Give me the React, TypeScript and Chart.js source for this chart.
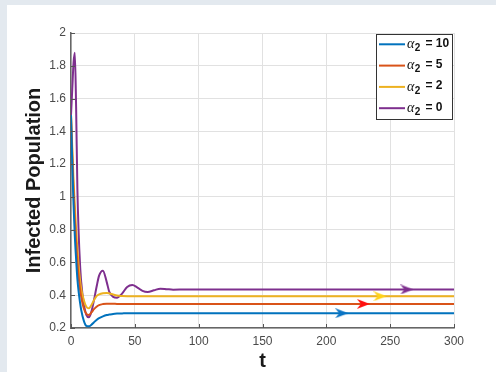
import React, { useEffect, useRef } from "react";
import { Chart, registerables } from "chart.js";

Chart.register(...registerables);

// ---- data ----
const tValues = [0, 1, 2, 3, 4, 5, 6, 7, 8, 10, 12, 14, 16, 18, 20, 22, 25, 28, 30, 33, 36, 40, 44, 48, 52, 56, 60, 65, 70, 75, 80, 90, 100, 150, 200, 250, 300];

const infectedA10 = [1.5, 1.2, 0.95, 0.76, 0.62, 0.5, 0.42, 0.36, 0.31, 0.245, 0.213, 0.21, 0.22, 0.235, 0.249, 0.26, 0.271, 0.279, 0.282, 0.286, 0.288, 0.289, 0.29, 0.29, 0.29, 0.29, 0.29, 0.29, 0.29, 0.29, 0.29, 0.29, 0.29, 0.29, 0.29, 0.29, 0.29];
const infectedA5 = [1.5, 1.25, 1.03, 0.86, 0.72, 0.6, 0.51, 0.44, 0.39, 0.32, 0.287, 0.28, 0.295, 0.315, 0.33, 0.34, 0.346, 0.348, 0.348, 0.348, 0.347, 0.347, 0.347, 0.347, 0.347, 0.347, 0.347, 0.347, 0.347, 0.347, 0.347, 0.347, 0.347, 0.347, 0.347, 0.347, 0.347];
const infectedA2 = [1.5, 1.3, 1.1, 0.95, 0.8, 0.68, 0.58, 0.5, 0.44, 0.37, 0.33, 0.32, 0.34, 0.37, 0.395, 0.405, 0.412, 0.414, 0.411, 0.404, 0.398, 0.395, 0.394, 0.394, 0.394, 0.394, 0.394, 0.394, 0.394, 0.394, 0.394, 0.394, 0.394, 0.394, 0.394, 0.394, 0.394];
const infectedA0 = [1.5, 1.66, 1.82, 1.88, 1.55, 1.05, 0.78, 0.6, 0.48, 0.35, 0.28, 0.265, 0.3, 0.37, 0.45, 0.52, 0.55, 0.48, 0.42, 0.39, 0.385, 0.41, 0.45, 0.462, 0.447, 0.427, 0.42, 0.43, 0.44, 0.437, 0.434, 0.435, 0.435, 0.435, 0.435, 0.435, 0.435];

const alphaValues = ["10", "5", "2", "0"];
const seriesLabels = ["α₂ = 10", "α₂ = 5", "α₂ = 2", "α₂ = 0"];
const lineColors = ["#0072BD", "#D95319", "#EDB120", "#7E2F8E"];
const arrowColors = ["#0A74C4", "#FF1010", "#FFD21A", "#7E2F8E"];
const arrowT = [212, 229, 242, 263];

const xTicks = [0, 50, 100, 150, 200, 250, 300];
const yTicks = [0.2, 0.4, 0.6, 0.8, 1, 1.2, 1.4, 1.6, 1.8, 2];

const FONT = "'Liberation Sans', Arial, Helvetica, sans-serif";

function makeArrowHead(color: string) {
  const c = document.createElement("canvas");
  c.width = 13;
  c.height = 10;
  const g = c.getContext("2d")!;
  g.fillStyle = color;
  g.beginPath();
  g.moveTo(13, 5);
  g.lineTo(0, 0);
  g.lineTo(4, 5);
  g.lineTo(0, 10);
  g.closePath();
  g.fill();
  return c;
}

const boxLegend = {
  id: "boxLegend",
  afterDatasetsDraw(chart: any) {
    const ctx = chart.ctx as CanvasRenderingContext2D;
    const { right, top } = chart.chartArea;
    const bx = right - 78;
    const by = top + 1;
    const bw = 77;
    const bh = 86;
    ctx.save();
    ctx.fillStyle = "#ffffff";
    ctx.fillRect(bx, by, bw, bh);
    ctx.strokeStyle = "#333333";
    ctx.lineWidth = 1;
    ctx.strokeRect(bx + 0.5, by + 0.5, bw - 1, bh - 1);
    alphaValues.forEach((val, i) => {
      const ly = by + 10.3 + i * 21.3;
      ctx.strokeStyle = lineColors[i];
      ctx.lineWidth = 2;
      ctx.beginPath();
      ctx.moveTo(bx + 3, ly);
      ctx.lineTo(bx + 29, ly);
      ctx.stroke();
      let x = bx + 31;
      ctx.fillStyle = "#111111";
      ctx.textBaseline = "middle";
      ctx.textAlign = "left";
      ctx.font = "italic 14px 'Liberation Serif', 'DejaVu Serif', serif";
      ctx.fillText("α", x, ly);
      x += ctx.measureText("α").width + 0.5;
      ctx.font = "bold 10px " + FONT;
      ctx.fillText("2", x, ly + 4);
      x += ctx.measureText("2").width + 5;
      ctx.font = "bold 12px " + FONT;
      ctx.fillText("= " + val, x, ly - 1);
    });
    ctx.restore();
  },
};

const innerTicks = {
  id: "innerTicks",
  afterDraw(chart: any) {
    const ctx = chart.ctx as CanvasRenderingContext2D;
    const xs = chart.scales.x;
    const ys = chart.scales.y;
    const { left, bottom } = chart.chartArea;
    ctx.save();
    ctx.strokeStyle = "#555555";
    ctx.lineWidth = 1;
    ctx.beginPath();
    xTicks.forEach((v) => {
      const px = Math.round(xs.getPixelForValue(v)) + 0.5;
      ctx.moveTo(px, bottom);
      ctx.lineTo(px, bottom - 4);
    });
    yTicks.forEach((v) => {
      const py = Math.round(ys.getPixelForValue(v)) + 0.5;
      ctx.moveTo(left, py);
      ctx.lineTo(left + 4, py);
    });
    ctx.stroke();
    ctx.restore();
  },
};

export default function App() {
  const ref = useRef<HTMLCanvasElement>(null);

  useEffect(() => {
    const series = [infectedA10, infectedA5, infectedA2, infectedA0];
    const lineSets = series.map((s, i) => ({
      label: seriesLabels[i],
      data: tValues.map((t, j) => ({ x: t, y: s[j] })),
      borderColor: lineColors[i],
      backgroundColor: lineColors[i],
      borderWidth: 2,
      pointRadius: 0,
      cubicInterpolationMode: "monotone" as const,
      fill: false,
      order: 2,
    }));
    const arrowSets = series.map((s, i) => ({
      label: "arrow " + alphaValues[i],
      data: [{ x: arrowT[i], y: s[s.length - 1] }],
      showLine: false,
      pointStyle: makeArrowHead(arrowColors[i]),
      pointRadius: 6,
      borderWidth: 0,
      order: 1,
    }));

    const chart = new Chart(ref.current!, {
      type: "line",
      data: { datasets: [...lineSets, ...arrowSets] as any },
      options: {
        animation: false,
        responsive: false,
        devicePixelRatio: 1,
        layout: { padding: { left: 0, top: 28, right: 42, bottom: 0 } },
        plugins: { legend: { display: false }, tooltip: { enabled: false } },
        scales: {
          x: {
            type: "linear",
            min: 0,
            max: 300,
            afterBuildTicks: (s: any) => {
              s.ticks = xTicks.map((v) => ({ value: v }));
            },
            afterFit: (s: any) => {
              s.height = 44;
            },
            ticks: {
              padding: 6,
              color: "#4a4a4a",
              font: { family: FONT, size: 12 },
              maxRotation: 0,
            },
            grid: { color: "#e1e1e1", drawTicks: false, lineWidth: 1 },
            border: { color: "#666666", width: 1.5 },
            title: {
              display: true,
              text: "t",
              color: "#1a1a1a",
              font: { family: FONT, size: 20, weight: "bold", lineHeight: 1 },
              padding: { top: 0, bottom: 0.5 },
            },
          },
          y: {
            type: "linear",
            min: 0.2,
            max: 2,
            afterBuildTicks: (s: any) => {
              s.ticks = yTicks.map((v) => ({ value: v }));
            },
            afterFit: (s: any) => {
              s.width = 64;
            },
            ticks: {
              padding: 5,
              color: "#4a4a4a",
              font: { family: FONT, size: 12 },
              callback: (v: any) => String(Number(Number(v).toFixed(1))),
            },
            grid: { color: "#e1e1e1", drawTicks: false, lineWidth: 1 },
            border: { color: "#666666", width: 1.5 },
            title: {
              display: true,
              text: "Infected Population",
              color: "#1a1a1a",
              font: { family: FONT, size: 20, weight: "bold", lineHeight: 1 },
              padding: { top: 17.5, bottom: 0 },
            },
          },
        },
      },
      plugins: [boxLegend, innerTicks],
    });
    return () => chart.destroy();
  }, []);

  return (
    <div
      style={{
        position: "fixed",
        left: 0,
        top: 0,
        width: 496,
        height: 372,
        background: "#e3e9ef",
        overflow: "hidden",
      }}
    >
      <div style={{ position: "absolute", left: 7, top: 5, width: 489, height: 367, background: "#ffffff" }}>
        <canvas ref={ref} width={489} height={367} style={{ display: "block", width: 489, height: 367 }} />
      </div>
    </div>
  );
}
